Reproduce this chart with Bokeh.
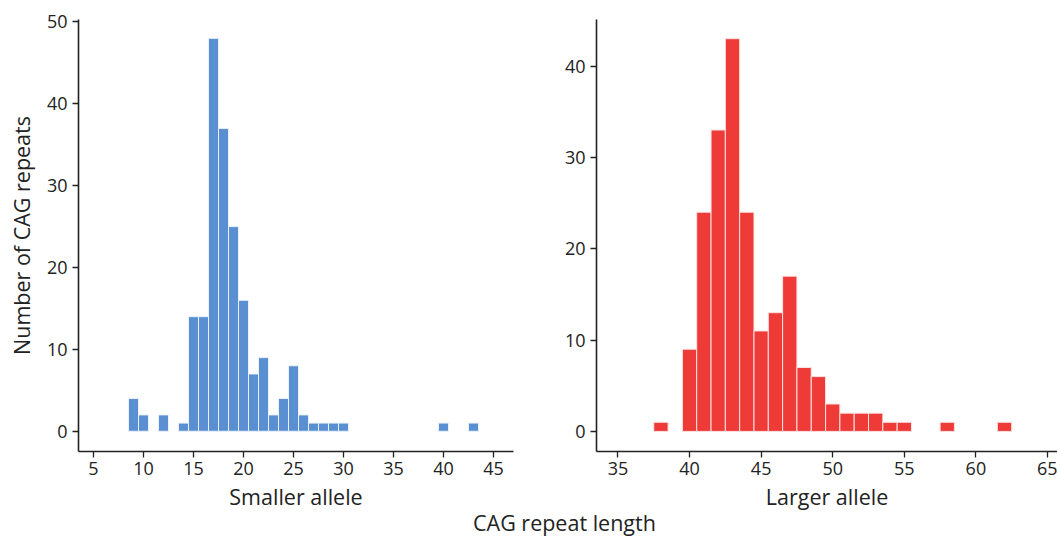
from bokeh.plotting import figure
from bokeh.layouts import column, row
from bokeh.models import Div, FixedTicker
from bokeh.embed import file_html
from bokeh.resources import INLINE

# Smaller allele histogram (CAG repeat length -> count)
small_len = [9, 10, 12, 14, 15, 16, 17, 18, 19, 20, 21, 22, 23, 24, 25, 26, 27, 28, 29, 30, 40, 43]
small_cnt = [4, 2, 2, 1, 14, 14, 48, 37, 25, 16, 7, 9, 2, 4, 8, 2, 1, 1, 1, 1, 1, 1]

# Larger allele histogram
large_len = [38, 40, 41, 42, 43, 44, 45, 46, 47, 48, 49, 50, 51, 52, 53, 54, 55, 58, 62]
large_cnt = [1, 9, 24, 33, 43, 24, 11, 13, 17, 7, 6, 3, 2, 2, 2, 1, 1, 1, 1]

small_xticks = [5, 10, 15, 20, 25, 30, 35, 40, 45]
small_yticks = [0, 10, 20, 30, 40, 50]
large_xticks = [35, 40, 45, 50, 55, 60, 65]
large_yticks = [0, 10, 20, 30, 40]

FONT = "Open Sans"
TXT = "#222222"
BLUE = "#5A8FD2"
RED = "#EE3B37"


def style(p, xticks, yticks):
    p.toolbar.logo = None
    p.grid.visible = False
    p.outline_line_color = None
    p.background_fill_color = "white"
    p.border_fill_color = "white"
    for ax in (p.xaxis[0], p.yaxis[0]):
        ax.axis_line_color = TXT
        ax.axis_line_width = 1.6
        ax.major_tick_line_color = TXT
        ax.major_tick_line_width = 1.3
        ax.major_tick_out = 6
        ax.major_tick_in = 0
        ax.minor_tick_line_color = None
        ax.major_label_text_font = FONT
        ax.major_label_text_font_size = "18px"
        ax.major_label_text_color = TXT
        ax.axis_label_text_font = FONT
        ax.axis_label_text_font_size = "21.5px"
        ax.axis_label_text_font_style = "normal"
        ax.axis_label_text_color = TXT
    p.xaxis[0].ticker = FixedTicker(ticks=xticks)
    p.yaxis[0].ticker = FixedTicker(ticks=yticks)
    p.xaxis[0].major_label_standoff = 4
    p.yaxis[0].major_label_standoff = 5
    p.xaxis[0].axis_label_standoff = 4


p1 = figure(width=540, height=513, output_backend="svg", toolbar_location=None,
            x_range=(3.5, 47.0), y_range=(-2.47, 50.3),
            min_border_left=78, min_border_right=27, min_border_top=19, min_border_bottom=60)
p1.vbar(x=small_len, top=small_cnt, bottom=0, width=1.0,
        fill_color=BLUE, line_color="#EAF1FA", line_width=1)
style(p1, small_xticks, small_yticks)
p1.xaxis.axis_label = "Smaller allele"
p1.yaxis.axis_label = "Number of CAG repeats"
p1.yaxis[0].axis_label_standoff = 8

p2 = figure(width=517, height=513, output_backend="svg", toolbar_location=None,
            x_range=(33.5, 65.7), y_range=(-2.2, 45.1),
            min_border_left=56, min_border_right=0, min_border_top=19, min_border_bottom=60)
p2.vbar(x=large_len, top=large_cnt, bottom=0, width=1.0,
        fill_color=RED, line_color="#FBE3E2", line_width=1)
style(p2, large_xticks, large_yticks)
p2.xaxis.axis_label = "Larger allele"

title = Div(text="CAG repeat length", width=1057, height=24,
            styles={"text-align": "left", "font-family": FONT, "font-size": "21.5px",
                    "color": TXT, "padding-left": "468px", "line-height": "19px",
                    "margin-top": "0px"})

layout = column(row(p1, p2), title)
open("out.html", "w").write(file_html(layout, INLINE))
